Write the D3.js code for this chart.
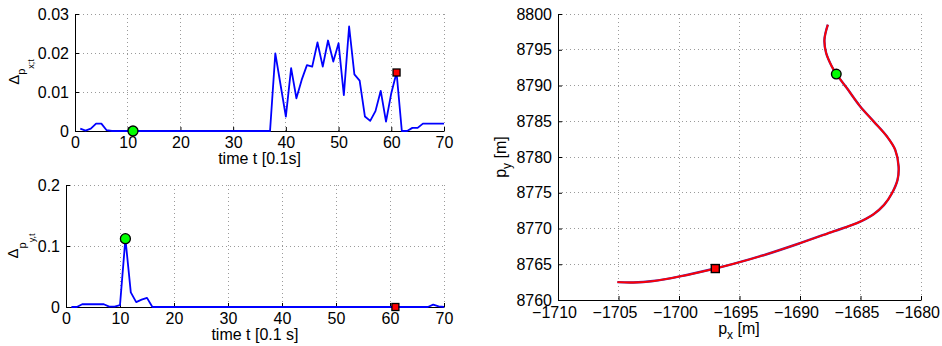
<!DOCTYPE html>
<html>
<head>
<meta charset="utf-8">
<script src="https://cdn.jsdelivr.net/npm/d3@7"></script>
<style>
  html, body { margin: 0; padding: 0; background: #fff; }
  svg { display: block; font-family: "Liberation Sans", Arial, Helvetica, sans-serif; }
</style>
</head>
<body>
<svg id="chart" width="942" height="346"></svg>
<script>
// ---------------- DATA ----------------
const timeSteps = [
  1,2,3,4,5,6,7,8,9,10,11,12,13,14,15,16,17,18,19,20,
  21,22,23,24,25,26,27,28,29,30,31,32,33,34,35,36,37,38,39,40,
  41,42,43,44,45,46,47,48,49,50,51,52,53,54,55,56,57,58,59,60,
  61,62,63,64,65,66,67,68,69,70
];
const deltaPx = [
  0.0006,0.0001,0.0006,0.0019,0.0019,0.0002,0,0,0,0,
  0,0,0,0,0,0,0,0,0,0,
  0,0,0,0,0,0,0,0,0,0,
  0,0,0,0,0,0,0,0.0199,0.0118,0.0037,
  0.0161,0.0084,0.0131,0.0169,0.0165,0.0227,0.0165,0.0232,0.0178,0.0225,
  0.0092,0.0268,0.0145,0.0129,0.0037,0.0026,0.0051,0.0103,0.0024,0.0097,
  0.0150,0,0,0.0008,0.0008,0.0019,0.0019,0.0019,0.0019,0.0019
];
const deltaPy = [
  0,0,0.0045,0.0045,0.0045,0.0045,0.0045,0.0005,0.0005,0.003,
  0.112,0.024,0.008,0.012,0.015,0,0,0,0,0,
  0,0,0,0,0,0,0,0,0,0,
  0,0,0,0,0,0,0,0,0,0,
  0,0,0,0,0,0,0,0,0,0,
  0,0,0,0,0,0,0,0,0,0,
  0,0,0,0,0,0,0,0.004,0.001,0
];
const startIndex = 11;   // green marker time
const endIndex = 61;     // red marker time

const trajX = [-1687.70,-1687.98,-1687.84,-1687.37,-1686.99,-1686.13,-1685.02,-1683.90,-1682.81,-1682.13,
  -1681.85,-1681.94,-1682.40,-1683.05,-1683.92,-1685.30,-1687.23,-1689.99,-1692.75,-1695.51,
  -1697.03,-1699.93,-1702.14,-1703.79,-1705.09];
const trajY = [8798.50,8796.40,8794.54,8792.66,8791.60,8789.64,8787.06,8784.95,8782.86,8781.00,
  8778.66,8776.80,8774.93,8773.30,8772.00,8770.75,8769.60,8767.95,8766.40,8765.05,
  8764.40,8763.30,8762.65,8762.45,8762.50];
const trajStart = [-1687.0, 8791.6];
const trajEnd = [-1697.0, 8764.4];

const timeTicks = [0,10,20,30,40,50,60,70];
const pxTicksTop = [0,0.01,0.02,0.03];
const pyTicksBottom = [0,0.1,0.2];
const posXTicks = [-1710,-1705,-1700,-1695,-1690,-1685,-1680];
const posYTicks = [8760,8765,8770,8775,8780,8785,8790,8795,8800];

// ---------------- DRAW ----------------
const svg = d3.select("#chart");
const FS = 16;
const minus = s => String(s).replace("-", "\u2212");

function panel(o) {
  const x = d3.scaleLinear().domain(o.xDomain).range([o.left, o.right]);
  const y = d3.scaleLinear().domain(o.yDomain).range([o.bottom, o.top]);
  const g = svg.append("g");
  g.selectAll(".gx").data(o.xTicks).enter().append("line")
    .attr("x1", d => x(d)).attr("x2", d => x(d))
    .attr("y1", o.top).attr("y2", o.bottom)
    .attr("stroke", "#9a9a9a").attr("stroke-width", 1).attr("stroke-dasharray", "1,3")
    .attr("shape-rendering", "crispEdges");
  g.selectAll(".gy").data(o.yTicks).enter().append("line")
    .attr("x1", o.left).attr("x2", o.right)
    .attr("y1", d => y(d)).attr("y2", d => y(d))
    .attr("stroke", "#9a9a9a").attr("stroke-width", 1).attr("stroke-dasharray", "1,3")
    .attr("shape-rendering", "crispEdges");
  const ax = g.append("g").attr("transform", `translate(0,${o.bottom})`)
    .call(d3.axisBottom(x).tickValues(o.xTicks).tickSizeInner(-4).tickSizeOuter(0).tickPadding(o.xPad).tickFormat(o.xFmt));
  const ay = g.append("g").attr("transform", `translate(${o.left},0)`)
    .call(d3.axisLeft(y).tickValues(o.yTicks).tickSizeInner(-4).tickSizeOuter(0).tickPadding(6).tickFormat(o.yFmt));
  [ax, ay].forEach(a => {
    a.select(".domain").attr("stroke", "#000").attr("stroke-width", 1);
    a.selectAll(".tick line").attr("stroke", "#000");
    a.selectAll("text").attr("fill", "#000").attr("font-size", FS)
      .attr("font-family", "'Liberation Sans', Arial, sans-serif");
  });
  if (o.xDx) ax.selectAll("text").attr("dx", o.xDx);
  return {x, y, g};
}

const fmtDec = d => d === 0 ? "0" : d3.format("." + (String(d).split(".")[1] || "").length + "f")(d);

// Top-left
const p1 = panel({left: 75, right: 444, top: 14, bottom: 131, xPad: 6,
  xDomain: [0,70], yDomain: [0,0.03], xTicks: timeTicks, yTicks: pxTicksTop,
  xFmt: d => d, yFmt: fmtDec});
const line1 = d3.line().x((d,i) => p1.x(timeSteps[i])).y(d => p1.y(d));
p1.g.append("path").datum(deltaPx).attr("d", line1)
  .attr("fill", "none").attr("stroke", "#0000ff").attr("stroke-width", 1.8).attr("stroke-linejoin", "round");
p1.g.append("circle").attr("cx", p1.x(startIndex)).attr("cy", p1.y(deltaPx[timeSteps.indexOf(startIndex)]))
  .attr("r", 5).attr("fill", "#00ff00").attr("stroke", "#000").attr("stroke-width", 1.3);
p1.g.append("rect").attr("x", p1.x(endIndex) - 3.5).attr("y", p1.y(deltaPx[timeSteps.indexOf(endIndex)]) - 3.5)
  .attr("width", 7).attr("height", 7).attr("fill", "#ff0000").attr("stroke", "#000").attr("stroke-width", 1.3);
svg.append("text").attr("x", 259.5).attr("y", 164).attr("text-anchor", "middle")
  .attr("font-size", FS).text("time t [0.1s]");
{
  const t = svg.append("text").attr("transform", "translate(18.5,72) rotate(-90)")
    .attr("text-anchor", "middle").attr("font-size", 15);
  t.append("tspan").text("\u0394");
  t.append("tspan").attr("font-size", 11).attr("dy", 6.5).text("p");
  t.append("tspan").attr("font-size", 9).attr("dy", 9).text("x;t");
}

// Bottom-left
const p2 = panel({left: 66, right: 444, top: 185, bottom: 307, xPad: 6,
  xDomain: [0,70], yDomain: [0,0.2], xTicks: timeTicks, yTicks: pyTicksBottom,
  xFmt: d => d, yFmt: fmtDec});
const line2 = d3.line().x((d,i) => p2.x(timeSteps[i])).y(d => p2.y(d));
p2.g.append("path").datum(deltaPy).attr("d", line2)
  .attr("fill", "none").attr("stroke", "#0000ff").attr("stroke-width", 1.8).attr("stroke-linejoin", "round");
p2.g.append("circle").attr("cx", p2.x(startIndex)).attr("cy", p2.y(deltaPy[timeSteps.indexOf(startIndex)]))
  .attr("r", 5).attr("fill", "#00ff00").attr("stroke", "#000").attr("stroke-width", 1.3);
p2.g.append("rect").attr("x", p2.x(endIndex) - 3.5).attr("y", p2.y(deltaPy[timeSteps.indexOf(endIndex)]) - 3.5)
  .attr("width", 7).attr("height", 7).attr("fill", "#ff0000").attr("stroke", "#000").attr("stroke-width", 1.3);
svg.append("text").attr("x", 255).attr("y", 340).attr("text-anchor", "middle")
  .attr("font-size", FS).text("time t [0.1 s]");
{
  const t = svg.append("text").attr("transform", "translate(18,246) rotate(-90)")
    .attr("text-anchor", "middle").attr("font-size", 15);
  t.append("tspan").text("\u0394");
  t.append("tspan").attr("font-size", 11).attr("dy", 7.5).text("p");
  t.append("tspan").attr("font-size", 9).attr("dy", 9).text("y,t");
}

// Right
const p3 = panel({left: 558, right: 921, top: 14, bottom: 300, xPad: 7, xDx: -4,
  xDomain: [-1710,-1680], yDomain: [8760,8800], xTicks: posXTicks, yTicks: posYTicks,
  xFmt: d => minus(d), yFmt: d => d});
const line3 = d3.line().x((d,i) => p3.x(trajX[i])).y((d,i) => p3.y(trajY[i]))
  .curve(d3.curveCatmullRom.alpha(0.5));
p3.g.append("path").datum(trajX).attr("d", line3)
  .attr("fill", "none").attr("stroke", "#5a22a0").attr("stroke-width", 2.4).attr("stroke-linejoin", "round");
p3.g.append("path").datum(trajX).attr("d", line3)
  .attr("fill", "none").attr("stroke", "#ff0000").attr("stroke-width", 1.8).attr("stroke-linejoin", "round");
p3.g.append("circle").attr("cx", p3.x(trajStart[0])).attr("cy", p3.y(trajStart[1]))
  .attr("r", 4.8).attr("fill", "#00ff00").attr("stroke", "#000").attr("stroke-width", 1.4);
p3.g.append("rect").attr("x", p3.x(trajEnd[0]) - 4).attr("y", p3.y(trajEnd[1]) - 4)
  .attr("width", 8).attr("height", 8).attr("fill", "#ff0000").attr("stroke", "#000").attr("stroke-width", 1.4);
{
  const t = svg.append("text").attr("x", 739).attr("y", 334).attr("text-anchor", "middle").attr("font-size", FS);
  t.append("tspan").text("p");
  t.append("tspan").attr("font-size", 12).attr("dy", 5).text("x");
  t.append("tspan").attr("dy", -5).text(" [m]");
}
{
  const t = svg.append("text").attr("transform", "translate(506,157) rotate(-90)")
    .attr("text-anchor", "middle").attr("font-size", FS);
  t.append("tspan").text("p");
  t.append("tspan").attr("font-size", 12).attr("dy", 5).text("y");
  t.append("tspan").attr("dy", -5).text(" [m]");
}
</script>
</body>
</html>
